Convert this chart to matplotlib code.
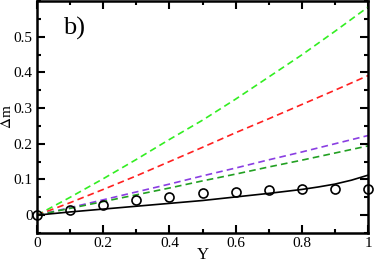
import numpy as np
import matplotlib
matplotlib.use("Agg")
import matplotlib.pyplot as plt
from matplotlib.ticker import MultipleLocator

plt.rcParams["font.family"] = ["Liberation Serif", "DejaVu Serif"]
plt.rcParams["mathtext.fontset"] = "stix"

# data
Y = [0.0, 0.1, 0.2, 0.3, 0.4, 0.5, 0.6, 0.7, 0.8, 0.9, 1.0]
dm_green = [0.0, 0.050, 0.102, 0.156, 0.212, 0.266, 0.325, 0.387, 0.449, 0.515, 0.583]
dm_red = [0.0, 0.035, 0.072, 0.110, 0.150, 0.190, 0.231, 0.270, 0.310, 0.350, 0.391]
dm_violet = [0.0, 0.021, 0.043, 0.065, 0.087, 0.110, 0.132, 0.155, 0.177, 0.200, 0.223]
dm_dkgreen = [0.0, 0.019, 0.038, 0.057, 0.076, 0.096, 0.115, 0.135, 0.154, 0.174, 0.194]
Y_black = [0.0, 0.1, 0.2, 0.3, 0.4, 0.5, 0.6, 0.7, 0.8, 0.85, 0.9, 0.95, 1.0]
dm_black = [0.0, 0.009, 0.017, 0.025, 0.033, 0.041, 0.051, 0.061, 0.072, 0.079, 0.087, 0.098, 0.112]
dm_circles = [0.0, 0.014, 0.029, 0.042, 0.052, 0.061, 0.066, 0.071, 0.074, 0.074, 0.073]

fig = plt.figure(figsize=(3.74, 2.63), dpi=100)
ax = fig.add_axes([37 / 374, 1 - 233 / 263, 331 / 374, 232 / 263])

dash = (0, (4, 2.5))
ax.plot(Y, dm_green, color="#33ee22", lw=1.2, ls=dash)
ax.plot(Y, dm_red, color="#ff2020", lw=1.2, ls=dash)
ax.plot(Y, dm_violet, color="#8a3ee2", lw=1.2, ls=dash)
ax.plot(Y, dm_dkgreen, color="#22a022", lw=1.2, ls=dash)
ax.plot(Y_black, dm_black, color="black", lw=1.2)
ax.plot(Y, dm_circles, ls="none", marker="o", ms=6.5, mfc="none", mec="black",
        mew=1.2, clip_on=False, zorder=5)

ax.set_xlim(0, 1)
ax.set_ylim(-0.05, 0.6)
ax.xaxis.set_minor_locator(MultipleLocator(0.1))
ax.yaxis.set_minor_locator(MultipleLocator(0.05))
ax.set_xticks([0, 0.2, 0.4, 0.6, 0.8, 1.0])
ax.set_xticklabels(["0", "0.2", "0.4", "0.6", "0.8", "1"])
ax.set_yticks([0, 0.1, 0.2, 0.3, 0.4, 0.5])
ax.set_yticklabels(["0", "0.1", "0.2", "0.3", "0.4", "0.5"])
ax.tick_params(which="both", direction="in", top=True, right=True, labelsize=11, width=1.5, pad=3)
ax.tick_params(which="major", length=6)
ax.tick_params(which="minor", length=3)
for s in ax.spines.values():
    s.set_linewidth(1.8)

ax.set_xlabel("Y", fontsize=12, labelpad=-2)
ax.set_ylabel(r"$\Delta$m", fontsize=11, labelpad=0)
ax.text(0.08, 0.93, "b)", transform=ax.transAxes, fontsize=19, va="top", ha="left")

fig.savefig("out.png", dpi=100)
